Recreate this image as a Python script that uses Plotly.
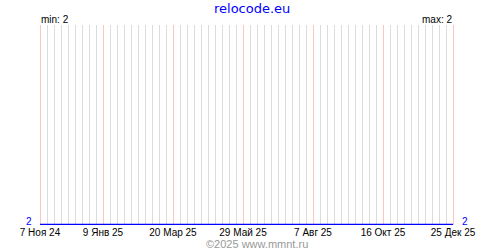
import plotly.graph_objects as go

# Data
dates = ["2024-11-07", "2025-12-25"]
values = [2, 2]
tick_dates = ["2024-11-07", "2025-01-09", "2025-03-20", "2025-05-29",
              "2025-08-07", "2025-10-16", "2025-12-25"]
tick_labels = ["7 Ноя 24", "9 Янв 25", "20 Мар 25", "29 Май 25",
               "7 Авг 25", "16 Окт 25", "25 Дек 25"]
y_value_label = "2"
title_text = "relocode.eu"
min_text = "min: 2"
max_text = "max: 2"
footer_text = "©2025 www.mmnt.ru"

BLUE = "#0000FF"
LABEL_FONT = "Liberation Sans, Arial, sans-serif"
WEEK_MS = 7 * 86400000

# layout geometry (pixels)
W, H = 500, 250
ML, MR, MT, MB = 38, 45, 25, 25
PW, PH = W - ML - MR, H - MT - MB


def px(x):
    return (x - ML) / PW


def py(y):
    return (H - MB - y) / PH


fig = go.Figure()
fig.add_trace(go.Scatter(x=dates, y=values, mode="lines",
                         line=dict(color=BLUE, width=1.5),
                         hoverinfo="skip", showlegend=False))

# pad range by two days each side so the edge grid lines are kept
xrange = ["2024-11-05", "2025-12-27"]
yrange = [values[0] - 0.0025, values[0] + 1]

fig.update_layout(
    width=W, height=H,
    margin=dict(l=ML, r=MR, t=MT, b=MB),
    paper_bgcolor="white", plot_bgcolor="white",
    showlegend=False,
    xaxis=dict(
        type="date", range=xrange,
        tickvals=tick_dates, ticktext=tick_labels,
        tickfont=dict(family=LABEL_FONT, size=10, color="black"),
        showgrid=True, gridcolor="#FFC4C4", gridwidth=1,
        minor=dict(tick0=tick_dates[0], dtick=WEEK_MS, showgrid=True,
                   gridcolor="#DCDCDC", gridwidth=1),
        zeroline=False, showline=False, ticks="", fixedrange=True,
    ),
    yaxis=dict(
        range=yrange, showticklabels=False,
        showgrid=False, zeroline=False, showline=False, ticks="",
        fixedrange=True,
    ),
    annotations=[
        dict(text=title_text, xref="paper", yref="paper",
             x=px(252), y=py(8),
             yanchor="middle", xanchor="center", showarrow=False,
             font=dict(family="DejaVu Sans, Verdana, sans-serif", size=13, color=BLUE)),
        dict(text=min_text, xref="paper", yref="paper",
             x=px(40), y=py(19.5), xanchor="left", yanchor="middle",
             showarrow=False, xshift=-1,
             font=dict(family=LABEL_FONT, size=10, color="black")),
        dict(text=max_text, xref="paper", yref="paper",
             x=px(453), y=py(19.5), xanchor="right", yanchor="middle",
             showarrow=False, xshift=1,
             font=dict(family=LABEL_FONT, size=10, color="black")),
        dict(text=y_value_label, xref="paper", yref="y",
             x=px(40), y=values[0], xanchor="right", yanchor="middle",
             showarrow=False, xshift=-6, yshift=3,
             font=dict(family=LABEL_FONT, size=10, color=BLUE)),
        dict(text=y_value_label, xref="paper", yref="y",
             x=px(453), y=values[-1], xanchor="left", yanchor="middle",
             showarrow=False, xshift=7, yshift=3,
             font=dict(family=LABEL_FONT, size=10, color=BLUE)),
        dict(text=footer_text, xref="paper", yref="paper",
             x=px(256.5), y=py(244), xanchor="center",
             yanchor="middle", showarrow=False,
             font=dict(family=LABEL_FONT, size=11, color="#999999")),
    ],
)

fig.write_html("out.html")
